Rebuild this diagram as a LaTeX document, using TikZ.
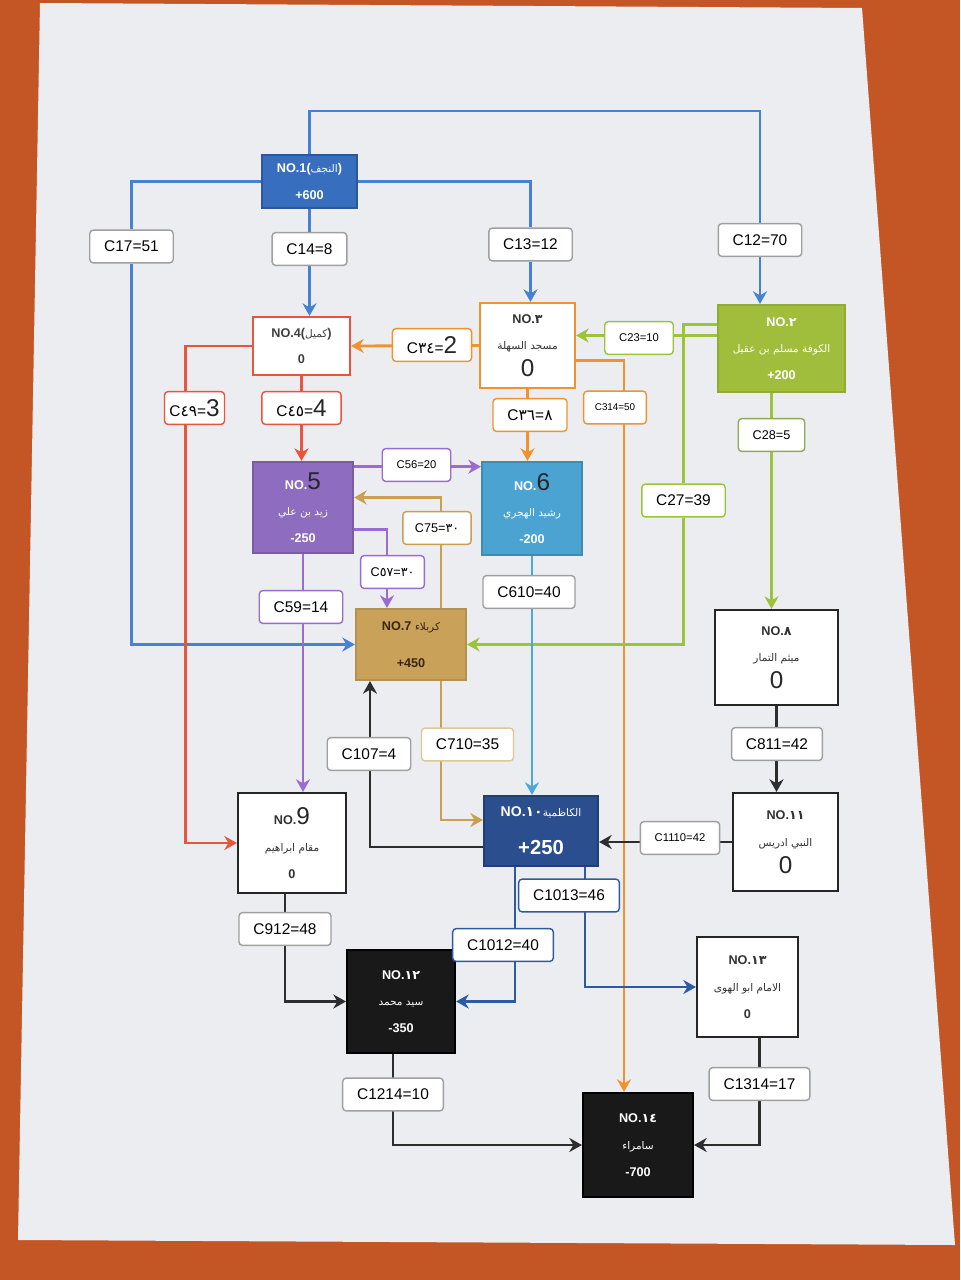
\documentclass[tikz,border=0pt]{standalone}
\usepackage{fontspec}
\setmainfont{Liberation Sans}
\newfontfamily\arabicfont[Script=Arabic]{DejaVu Sans}
\usetikzlibrary{arrows.meta,backgrounds}
\pgfdeclarelayer{paper}
\pgfsetlayers{paper,background,main}
\TeXXeTstate=1
\newcommand{\artxt}[1]{{\arabicfont\mdseries\fontsize{7.5}{19}\selectfont\beginR #1\endR}}
\newcommand{\ard}[1]{{\arabicfont #1}}
\newcommand{\hw}[1]{{\color{black!85}\mdseries\LARGE #1}}

\definecolor{tablecol}{RGB}{196,86,38}
\definecolor{papercol}{RGB}{236,237,241}
\definecolor{bluel}{RGB}{70,130,210}
\definecolor{bluef}{RGB}{55,110,190}
\definecolor{orl}{RGB}{240,146,46}
\definecolor{grl}{RGB}{156,195,60}
\definecolor{grf}{RGB}{160,190,60}
\definecolor{rdl}{RGB}{232,84,60}
\definecolor{pul}{RGB}{154,108,208}
\definecolor{puf}{RGB}{142,108,192}
\definecolor{tnl}{RGB}{200,160,80}
\definecolor{tnf}{RGB}{201,161,88}
\definecolor{lbl}{RGB}{75,168,216}
\definecolor{lbf}{RGB}{75,163,210}
\definecolor{dbl}{RGB}{46,90,160}
\definecolor{dbf}{RGB}{43,78,142}
\definecolor{dkl}{RGB}{45,45,45}

\begin{document}
\begin{tikzpicture}[x=0.025cm, y=-0.025cm,
  stn/.style 2 args={draw, line width=1.5pt, minimum width=#1*0.025cm,
    minimum height=#2*0.025cm, inner sep=0pt, align=center,
    font=\bfseries\fontsize{9}{19}\selectfont},
  cbox/.style={draw=#1, fill=white, rounded corners=2.5pt, line width=1pt,
    minimum height=0.82cm, inner xsep=0.36cm, font=\fontsize{11}{13}\selectfont},
  cbox/.default=gray!75,
  con/.style={draw=#1, line width=2pt, -{Stealth[length=9pt,width=10pt]}}]
  \useasboundingbox (0,0) rectangle (960,1280);
  \begin{pgfonlayer}{paper}
    \fill[tablecol] (0,0) rectangle (960,1280);
    \fill[papercol] (40,3) -- (862,8) -- (955,1245) -- (18,1240) -- cycle;
  \end{pgfonlayer}

  % stations
  \node[stn={95}{53}, fill=bluef, draw=bluef!80!black, text=white] (n1) at (309.5,181.5) {NO.1(\artxt{النجف})\\ +600};
  \node[stn={127}{87}, fill=grf, draw=grf!90!black, text=white] (n2) at (781.5,348.5) {NO.\ard{٢}\\ \artxt{الكوفة مسلم بن عقيل}\\ +200};
  \node[stn={95}{85}, fill=white, draw=orl, text=black!80] (n3) at (527.5,345.5) {NO.\ard{٣}\\ \artxt{مسجد السهلة}\\ \hw{0}};
  \node[stn={97}{58}, fill=white, draw=rdl, text=black!75] (n4) at (301.5,346) {NO.4(\artxt{كميل})\\ 0};
  \node[stn={100}{91}, fill=puf, draw=puf!85!black, text=white] (n5) at (303,507.5) {NO.\hw{5}\\ \artxt{زيد بن علي}\\ -250};
  \node[stn={100}{93}, fill=lbf, draw=lbf!85!black, text=white] (n6) at (532,508.5) {NO.\hw{6}\\ \artxt{رشيد الهجري}\\ -200};
  \node[stn={110}{71}, fill=tnf, draw=tnf!90!black, text=black!70!brown, font=\bfseries\fontsize{9}{26}\selectfont] (n7) at (411,644.5) {NO.7 \artxt{كربلاء}\\ +450};
  \node[stn={123}{95}, fill=white, draw=black!85, text=black!80] (n8) at (776.5,657.5) {NO.\ard{٨}\\ \artxt{ميثم التمار}\\ \hw{0}};
  \node[stn={108}{100}, fill=white, draw=black!85, text=black!80] (n9) at (292,843) {NO.\hw{9}\\ \artxt{مقام ابراهيم}\\ 0};
  \node[stn={114}{70}, fill=dbf, draw=dbf!80!black, text=white, font=\bfseries\fontsize{10}{27}\selectfont] (n10) at (541,831) {NO.\ard{١٠}\artxt{الكاظمية}\\ {\Large +250}};
  \node[stn={105}{98}, fill=white, draw=black!85, text=black!80] (n11) at (785.5,842) {NO.\ard{١١}\\ \artxt{النبي ادريس}\\ \hw{0}};
  \node[stn={108}{103}, fill=black!90, draw=black, text=white] (n12) at (401,1001.5) {NO.\ard{١٢}\\ \artxt{سيد محمد}\\ -350};
  \node[stn={101}{100}, fill=white, draw=black!85, text=black!80] (n13) at (747.5,987) {NO.\ard{١٣}\\ \artxt{الامام ابو الهوى}\\ 0};
  \node[stn={110}{104}, fill=black!90, draw=black, text=white] (n14) at (638,1145) {NO.\ard{١٤}\\ \artxt{سامراء}\\ -700};

  % costs
  \node[cbox] (c17) at (131.5,246.5) {C17=51};
  \node[cbox] (c14) at (309.5,249) {C14=8};
  \node[cbox] (c13) at (530.5,244.5) {C13=12};
  \node[cbox] (c12) at (760,240) {C12=70};
  \node[cbox=orl] (c34) at (432,345) {C\ard{٣٤}=\hw{2}};
  \node[cbox=grl, font=\footnotesize] (c23) at (639,338) {C23=10};
  \node[cbox=rdl, inner xsep=0.12cm] (c49) at (194.5,408) {C\ard{٤٩}=\hw{3}};
  \node[cbox=rdl] (c45) at (301.5,408) {C\ard{٤٥}=\hw{4}};
  \node[cbox=orl] (c36) at (530,415) {C\ard{٣٦}=\ard{٨}};
  \node[cbox=orl, font=\scriptsize, inner xsep=0.28cm] (c314) at (615,407.5) {C314=50};
  \node[cbox=grl!60!gray, font=\small] (c28) at (771.5,435) {C28=5};
  \node[cbox=pul, font=\footnotesize] (c56) at (416.5,465) {C56=20};
  \node[cbox=grl] (c27) at (683.5,500.5) {C27=39};
  \node[cbox=tnl, font=\small, inner xsep=0.3cm] (c75) at (437,528) {C75=\ard{٣٠}};
  \node[cbox=pul, font=\small, inner xsep=0.25cm] (c57) at (392.5,572) {C\ard{٥٧}=\ard{٣٠}};
  \node[cbox] (c610) at (529,592) {C610=40};
  \node[cbox=pul] (c59) at (301,607) {C59=14};
  \node[cbox] (c107) at (369,754) {C107=4};
  \node[cbox=tnl!60!white] (c710) at (467.5,744.5) {C710=35};
  \node[cbox] (c811) at (777,744) {C811=42};
  \node[cbox, font=\footnotesize] (c1110) at (680,838) {C1110=42};
  \node[cbox=dbl] (c1013) at (569,895.5) {C1013=46};
  \node[cbox] (c912) at (285,929) {C912=48};
  \node[cbox=dbl] (c1012) at (503,945) {C1012=40};
  \node[cbox] (c1214) at (393,1094.5) {C1214=10};
  \node[cbox] (c1314) at (759.5,1084) {C1314=17};

  % connections
  \begin{scope}[on background layer]
    \draw[con=bluel] (n1.north) -- ++(0,-43) -| (c12) -- (c12 |- n2.north);
    \draw[con=bluel] (n1.west) -| (c17) |- (n7.west);
    \draw[con=bluel] (n1.east) -| (c13) -- (c13 |- n3.north);
    \draw[con=bluel] (n1.south) -- (n1.south |- n4.north);
    \draw[con=orl] (n3.west) -- (n4.east);
    \draw[con=orl] (n3.south) -- (n3.south |- n6.north);
    \draw[con=orl] ([yshift=-0.375cm]n3.east) -| ([xshift=-0.35cm]n14.north);
    \draw[con=grl] ([yshift=0.25cm]n3.east -| n2.west) -- ([yshift=0.25cm]n3.east);
    \draw[con=grl] ([yshift=0.6cm]n2.west) -| (c27) |- (n7.east);
    \draw[con=grl] (c28 |- n2.south) -- (c28 |- n8.north);
    \draw[con=rdl] (n4.west) -| ([xshift=-0.22cm]c49.center) |- (n9.west);
    \draw[con=rdl] (n4.south) -- (n4.south |- n5.north);
    \draw[con=pul] ([yshift=1.02cm]n5.east) -- ([yshift=1.02cm]n5.east -| n6.west);
    \draw[con=pul] ([yshift=-0.55cm]n5.east) -| ([xshift=-0.6cm]n7.north);
    \draw[con=pul] (n5.south) -- (n5.south |- n9.north);
    \draw[con=tnl] ([xshift=0.75cm]n7.north) |- ([yshift=0.25cm]n5.east);
    \draw[con=tnl] ([xshift=0.75cm]n7.south) |- ([yshift=0.275cm]n10.west);
    \draw[con=dkl] ([yshift=-0.4cm]n10.west) -| ([xshift=-1.025cm]n7.south);
    \draw[con=dkl] (n8.south) -- (n8.south |- n11.north);
    \draw[con=dkl] (n11.west) -- (n11.west -| n10.east);
    \draw[con=dkl] (c912 |- n9.south) |- (n12.west);
    \draw[con=dkl] (c1214 |- n12.south) |- (n14.west);
    \draw[con=dkl] (c1314 |- n13.south) |- (n14.east);
    \draw[con=dbl] ([xshift=-0.65cm]n10.south) |- (n12.east);
    \draw[con=dbl] ([xshift=1.1cm]n10.south) |- (n13.west);
    \draw[con=lbl] (n6.south) -- (n6.south |- n10.north);
  \end{scope}
\end{tikzpicture}
\end{document}
